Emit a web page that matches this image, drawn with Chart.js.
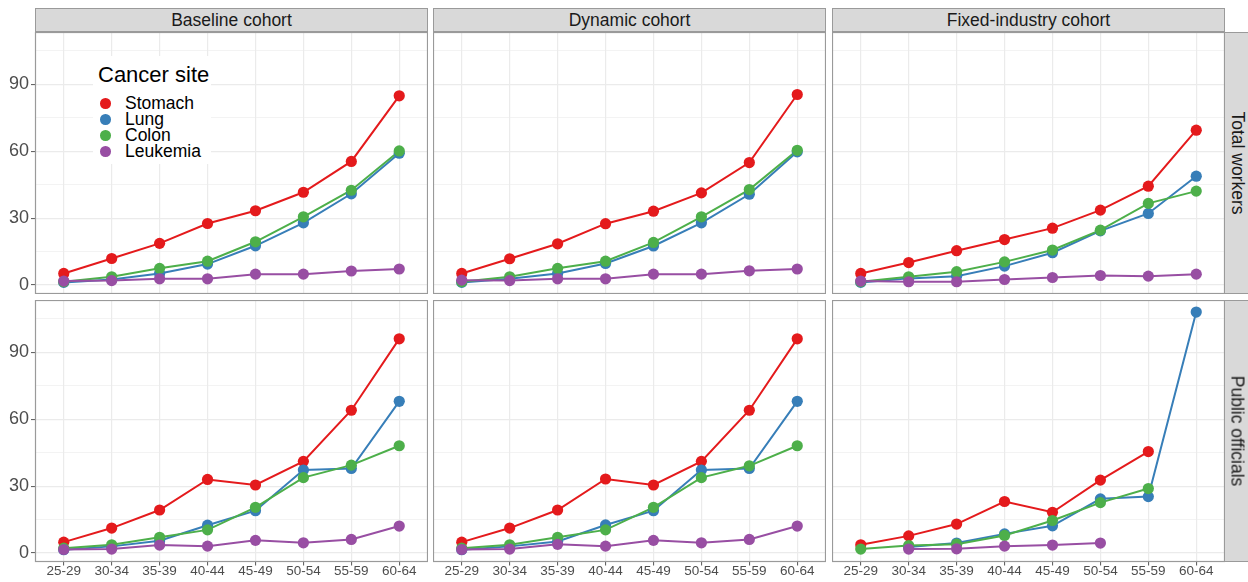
<!DOCTYPE html>
<html>
<head>
<meta charset="utf-8">
<script src="https://cdn.jsdelivr.net/npm/chart.js@4.4.1/dist/chart.umd.min.js"></script>
<style>
  body { margin: 0; background: #fff; font-family: 'Liberation Sans', Arial, sans-serif; }
  #wrap { position: relative; width: 1248px; height: 582px; overflow: hidden; background: #fff; }
  canvas { position: absolute; }
  .strip { position: absolute; box-sizing: border-box; background: #d9d9d9; border: 1px solid #9a9a9a;
           color: #1a1a1a; font-size: 17.5px; text-align: center; white-space: nowrap; }
  .strip.top { height: 24px; line-height: 23px; }
  .strip.side span { position: absolute; left: 50%; top: 50%; transform: translate(-50%, -50%) rotate(90deg); }
  #legend { position: absolute; left: 93px; top: 56px; width: 118px; height: 108px; background: #fff; z-index: 2; }
  #legend .title { position: absolute; left: 5px; top: 8px; font-size: 22px; line-height: 22px; color: #000; }
  #legend .item { position: absolute; left: 32px; font-size: 17.5px; line-height: 17.5px; color: #000; }
  #legend .dot { position: absolute; left: 7px; width: 10.6px; height: 10.6px; border-radius: 50%; }
</style>
</head>
<body>
<div id="wrap"></div>
<script>
const ageGroups = ['25-29', '30-34', '35-39', '40-44', '45-49', '50-54', '55-59', '60-64'];
const sites = ['Stomach', 'Lung', 'Colon', 'Leukemia'];
const siteColors = ['#E41A1C', '#377EB8', '#4DAF4A', '#984EA3'];
const cohorts = ['Baseline cohort', 'Dynamic cohort', 'Fixed-industry cohort'];
const groups = ['Total workers', 'Public officials'];
const yLabels = [0, 30, 60, 90];

// one row per site: Stomach, Lung, Colon, Leukemia
const baselineTotal = [
  [5.2, 11.9, 18.7, 27.6, 33.3, 41.6, 55.4, 84.8],
  [1.2, 2.5, 5.2, 9.4, 17.6, 27.9, 40.9, 59.1],
  [1.5, 3.7, 7.5, 10.7, 19.4, 30.6, 42.5, 60.1],
  [1.8, 2.0, 2.8, 2.8, 4.9, 4.9, 6.3, 7.2]
];
const dynamicTotal = [
  [5.2, 11.8, 18.5, 27.5, 33.1, 41.3, 54.9, 85.4],
  [1.2, 2.8, 5.2, 9.7, 17.5, 27.9, 40.7, 59.7],
  [1.5, 3.7, 7.5, 10.7, 19.1, 30.6, 42.8, 60.4],
  [2.2, 2.0, 2.8, 2.8, 4.9, 4.9, 6.4, 7.2]
];
const fixedTotal = [
  [5.2, 10.1, 15.4, 20.4, 25.5, 33.6, 44.3, 69.4],
  [1.2, 3.0, 4.0, 8.5, 14.5, 24.3, 32.1, 48.8],
  [1.5, 3.7, 6.0, 10.4, 15.7, 24.6, 36.6, 42.1],
  [1.8, 1.5, 1.5, 2.5, 3.4, 4.3, 4.0, 4.9]
];
const baselinePublic = [
  [4.9, 11.2, 19.3, 33.0, 30.5, 41.1, 64.0, 96.0],
  [1.5, 3.0, 5.5, 12.5, 19.0, 37.2, 37.9, 68.0],
  [2.2, 3.7, 7.1, 10.4, 20.5, 33.8, 39.4, 48.1],
  [1.6, 1.8, 3.6, 3.1, 5.7, 4.6, 6.1, 12.1]
];
const dynamicPublic = [
  [4.9, 11.2, 19.3, 33.2, 30.5, 41.1, 64.0, 96.0],
  [1.5, 3.0, 5.2, 12.6, 19.0, 37.2, 37.9, 68.0],
  [2.2, 3.7, 7.1, 10.4, 20.5, 33.8, 39.1, 48.1],
  [1.6, 1.8, 3.9, 3.1, 5.7, 4.6, 6.1, 12.1]
];
const fixedPublic = [
  [3.7, 7.7, 13.0, 23.1, 18.3, 32.7, 45.5, null],
  [null, 2.7, 4.5, 8.6, 12.2, 24.3, 25.3, 108.0],
  [1.8, 3.4, 4.0, 7.9, 14.6, 22.6, 28.9, null],
  [null, 1.8, 1.9, 3.1, 3.6, 4.5, null, null]
];

const panelData = [
  [baselineTotal, dynamicTotal, fixedTotal],
  [baselinePublic, dynamicPublic, fixedPublic]
];

// layout (px)
const colLeft = [35, 433, 832];
const rowTop = [32, 300];
const panelW = 393, panelH = 262, axisW = 35, axisH = 20;

Chart.defaults.font.family = "'Liberation Sans', Arial, sans-serif";

const wrap = document.getElementById('wrap');

// ggplot-like panel border
const panelBorder = {
  id: 'panelBorder',
  afterDraw(chart) {
    const a = chart.chartArea, ctx = chart.ctx;
    ctx.save();
    ctx.strokeStyle = '#9a9a9a';
    ctx.lineWidth = 1.2;
    ctx.strokeRect(a.left + 0.5, a.top + 0.5, a.right - a.left - 1, a.bottom - a.top - 1);
    ctx.restore();
  }
};

function makePanel(row, col) {
  const canvas = document.createElement('canvas');
  const left = col === 0 ? 0 : colLeft[col];
  const w = panelW + (col === 0 ? axisW : 0);
  const h = panelH + (row === 1 ? axisH : 0);
  canvas.width = w; canvas.height = h;
  canvas.style.left = left + 'px';
  canvas.style.top = rowTop[row] + 'px';
  wrap.appendChild(canvas);

  const values = panelData[row][col];
  const datasets = [];
  sites.forEach((site, s) => {
    const pts = values[s].map((v, i) => ({ x: i, y: v }));
    // lines first, points on top (like geom_line + geom_point)
    datasets.push({
      label: site, data: pts, borderColor: siteColors[s], borderWidth: 2,
      pointRadius: 0, spanGaps: false, order: 8 - s
    });
    datasets.push({
      label: site, data: pts, showLine: false, pointRadius: 5.6,
      pointBackgroundColor: siteColors[s], pointBorderWidth: 0, order: 4 - s
    });
  });

  const isMajor = c => c.tick && yLabels.includes(c.tick.value);

  new Chart(canvas, {
    type: 'line',
    data: { datasets },
    options: {
      responsive: false,
      animation: false,
      events: [],
      layout: { padding: 0, autoPadding: false },
      plugins: { legend: { display: false }, tooltip: { enabled: false } },
      scales: {
        x: {
          type: 'linear', min: -0.6, max: 7.6,
          border: { display: false },
          grid: { color: '#ebebeb', lineWidth: 1.2, drawTicks: row === 1, tickLength: 3.5, tickColor: '#555', tickWidth: 1 },
          ticks: {
            display: row === 1, stepSize: 1, includeBounds: false, autoSkip: false, maxRotation: 0,
            padding: -2, color: '#4d4d4d', font: { size: 13.5 },
            callback: v => ageGroups[v] ?? ''
          },
          afterFit: s => { s.height = row === 1 ? axisH : 0; s.paddingLeft = 0; s.paddingRight = 0; }
        },
        y: {
          type: 'linear', min: -4, max: 113.4,
          border: { display: false },
          grid: {
            color: '#ebebeb',
            lineWidth: c => isMajor(c) ? 1.2 : 0.6,
            drawTicks: col === 0, tickLength: 4,
            tickColor: c => isMajor(c) ? '#555' : 'rgba(0,0,0,0)', tickWidth: 1
          },
          ticks: {
            display: col === 0, stepSize: 15, includeBounds: false, autoSkip: false,
            padding: 2, color: '#4d4d4d', font: { size: 18 },
            callback: v => yLabels.includes(v) ? v : ''
          },
          afterFit: s => { s.width = col === 0 ? axisW : 0; s.paddingTop = 0; s.paddingBottom = 0; }
        }
      }
    },
    plugins: [panelBorder]
  });
}

for (let r = 0; r < 2; r++) for (let c = 0; c < 3; c++) makePanel(r, c);

// facet strips
cohorts.forEach((name, c) => {
  const d = document.createElement('div');
  d.className = 'strip top';
  d.style.left = colLeft[c] + 'px';
  d.style.top = '8px';
  d.style.width = panelW + 'px';
  d.textContent = name;
  wrap.appendChild(d);
});
groups.forEach((name, r) => {
  const d = document.createElement('div');
  d.className = 'strip side';
  d.style.left = (colLeft[2] + panelW - 1) + 'px';
  d.style.top = rowTop[r] + 'px';
  d.style.width = '25px';
  d.style.height = panelH + 'px';
  const sp = document.createElement('span');
  sp.textContent = name;
  d.appendChild(sp);
  wrap.appendChild(d);
});

// legend inside first panel
const legend = document.createElement('div');
legend.id = 'legend';
const title = document.createElement('div');
title.className = 'title';
title.textContent = 'Cancer site';
legend.appendChild(title);
sites.forEach((site, s) => {
  const top = 38.5 + s * 16;
  const dot = document.createElement('div');
  dot.className = 'dot';
  dot.style.background = siteColors[s];
  dot.style.top = (top + 3.5) + 'px';
  legend.appendChild(dot);
  const t = document.createElement('div');
  t.className = 'item';
  t.style.top = top + 'px';
  t.textContent = site;
  legend.appendChild(t);
});
wrap.appendChild(legend);
</script>
</body>
</html>
